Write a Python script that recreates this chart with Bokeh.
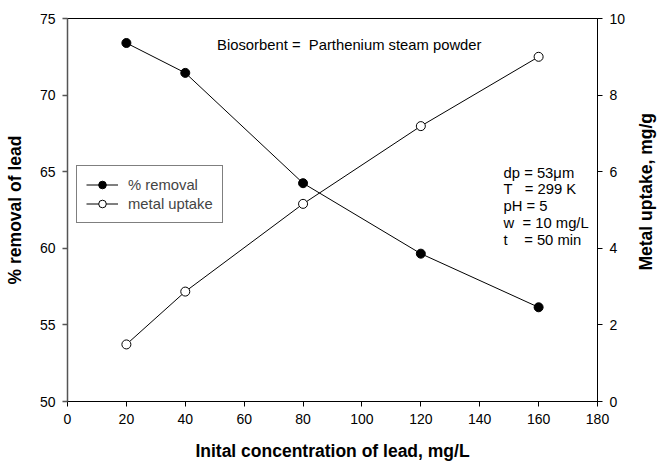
import math
from bokeh.plotting import figure
from bokeh.layouts import row
from bokeh.models import Range1d, LinearAxis, Legend, LegendItem, Label, FixedTicker
from bokeh.embed import file_html
from bokeh.resources import INLINE

# Initial lead concentration (mg/L)
concentration = [20, 40, 80, 120, 160]
# Percentage of lead removed
removal_pct = [73.4, 71.45, 64.25, 59.65, 56.15]
# Metal uptake (mg/g)
uptake = [1.49, 2.87, 5.16, 7.19, 9.0]

x_ticks = [0, 20, 40, 60, 80, 100, 120, 140, 160, 180]
left_ticks = [50, 55, 60, 65, 70, 75]
right_ticks = [0, 2, 4, 6, 8, 10]

conditions = ["dp = 53\u03bcm", "T \u00a0\u00a0= 299 K", "pH = 5", "w \u00a0= 10 mg/L", "t \u00a0\u00a0\u00a0= 50 min"]
biosorbent_note = "Biosorbent = \u00a0Parthenium steam powder"
right_title = "Metal uptake, mg/g"

FONT = "Liberation Sans"
TEXT_SIZE = "14.8px"
TITLE_SIZE = "17.5px"

MAIN_W, STRIP_W, H = 637, 22, 463
TOP, BOTTOM = 18, 62

p = figure(width=MAIN_W, height=H, output_backend="svg", toolbar_location=None,
           x_range=Range1d(0, 180), y_range=Range1d(50, 75),
           min_border_left=67, min_border_right=MAIN_W - 597,
           min_border_top=TOP, min_border_bottom=BOTTOM)
p.extra_y_ranges = {"uptake": Range1d(0, 10)}
p.xgrid.visible = False
p.ygrid.visible = False
p.outline_line_color = "black"
p.outline_line_width = 1
p.background_fill_color = "white"
p.border_fill_color = "white"

def style_axis(ax, ticks, label, color="black", width=1):
    ax.ticker = FixedTicker(ticks=ticks)
    ax.axis_label = label
    ax.axis_label_text_font = FONT
    ax.axis_label_text_font_style = "bold"
    ax.axis_label_text_font_size = TITLE_SIZE
    ax.axis_label_text_color = "black"
    ax.axis_label_standoff = 12
    ax.major_label_text_font = FONT
    ax.major_label_text_font_size = "14px"
    ax.major_label_text_color = "black"
    ax.major_label_standoff = 7
    ax.axis_line_color = color
    ax.axis_line_width = width
    ax.major_tick_line_color = color
    ax.major_tick_line_width = width
    ax.major_tick_out = 5
    ax.major_tick_in = 0
    ax.minor_tick_line_color = None

style_axis(p.xaxis[0], x_ticks, "Inital concentration of lead, mg/L")
p.xaxis[0].axis_label_standoff = 14
style_axis(p.yaxis[0], left_ticks, "% removal of lead", color="#555555", width=1.5)

right_axis = LinearAxis(y_range_name="uptake")
style_axis(right_axis, right_ticks, None)
p.add_layout(right_axis, "right")

# % removal series (filled circles)
r_line1 = p.line(concentration, removal_pct, line_color="black", line_width=1)
r_pt1 = p.scatter(concentration, removal_pct, size=9, marker="circle",
                  fill_color="black", line_color="black")

# metal uptake series (open circles) on the secondary axis
r_line2 = p.line(concentration, uptake, line_color="black", line_width=1, y_range_name="uptake")
r_pt2 = p.scatter(concentration, uptake, size=9, marker="circle",
                  fill_color="white", line_color="black", line_width=1, y_range_name="uptake")

legend = Legend(items=[
    LegendItem(label="% removal", renderers=[r_line1, r_pt1]),
    LegendItem(label="metal uptake", renderers=[r_line2, r_pt2]),
], location=(9, 178))
legend.label_text_font = FONT
legend.label_text_font_size = TEXT_SIZE
legend.border_line_color = "black"
legend.border_line_width = 1
legend.glyph_width = 32
legend.glyph_height = 19
legend.label_height = 19
legend.label_standoff = 10
legend.spacing = 0
legend.padding = 9
legend.margin = 0
legend.background_fill_alpha = 1
p.add_layout(legend, "center")

p.add_layout(Label(x=50.8, y=73.25, text=biosorbent_note, text_font=FONT,
                   text_font_size=TEXT_SIZE, text_baseline="middle", text_color="black"))

for i, line in enumerate(conditions):
    p.add_layout(Label(x=148.1, y=64.93 - i * 1.09, text=line, text_font=FONT,
                       text_font_size=TEXT_SIZE, text_baseline="middle", text_color="black"))

# narrow strip on the right carrying the secondary axis title, read bottom-to-top
strip = figure(width=STRIP_W, height=H, output_backend="svg", toolbar_location=None,
               x_range=Range1d(0, STRIP_W), y_range=Range1d(0, H),
               min_border_left=0, min_border_right=0, min_border_top=0, min_border_bottom=0)
strip.axis.visible = False
strip.grid.visible = False
strip.outline_line_color = None
strip.background_fill_color = "white"
strip.border_fill_color = "white"
strip.add_layout(Label(x=8, y=H - (TOP + (H - BOTTOM)) / 2, text=right_title, angle=math.pi / 2,
                       text_font=FONT, text_font_style="bold", text_font_size=TITLE_SIZE,
                       text_align="center", text_baseline="middle", text_color="black"))

layout = row(p, strip, spacing=0)
open("out.html", "w").write(file_html(layout, INLINE))
